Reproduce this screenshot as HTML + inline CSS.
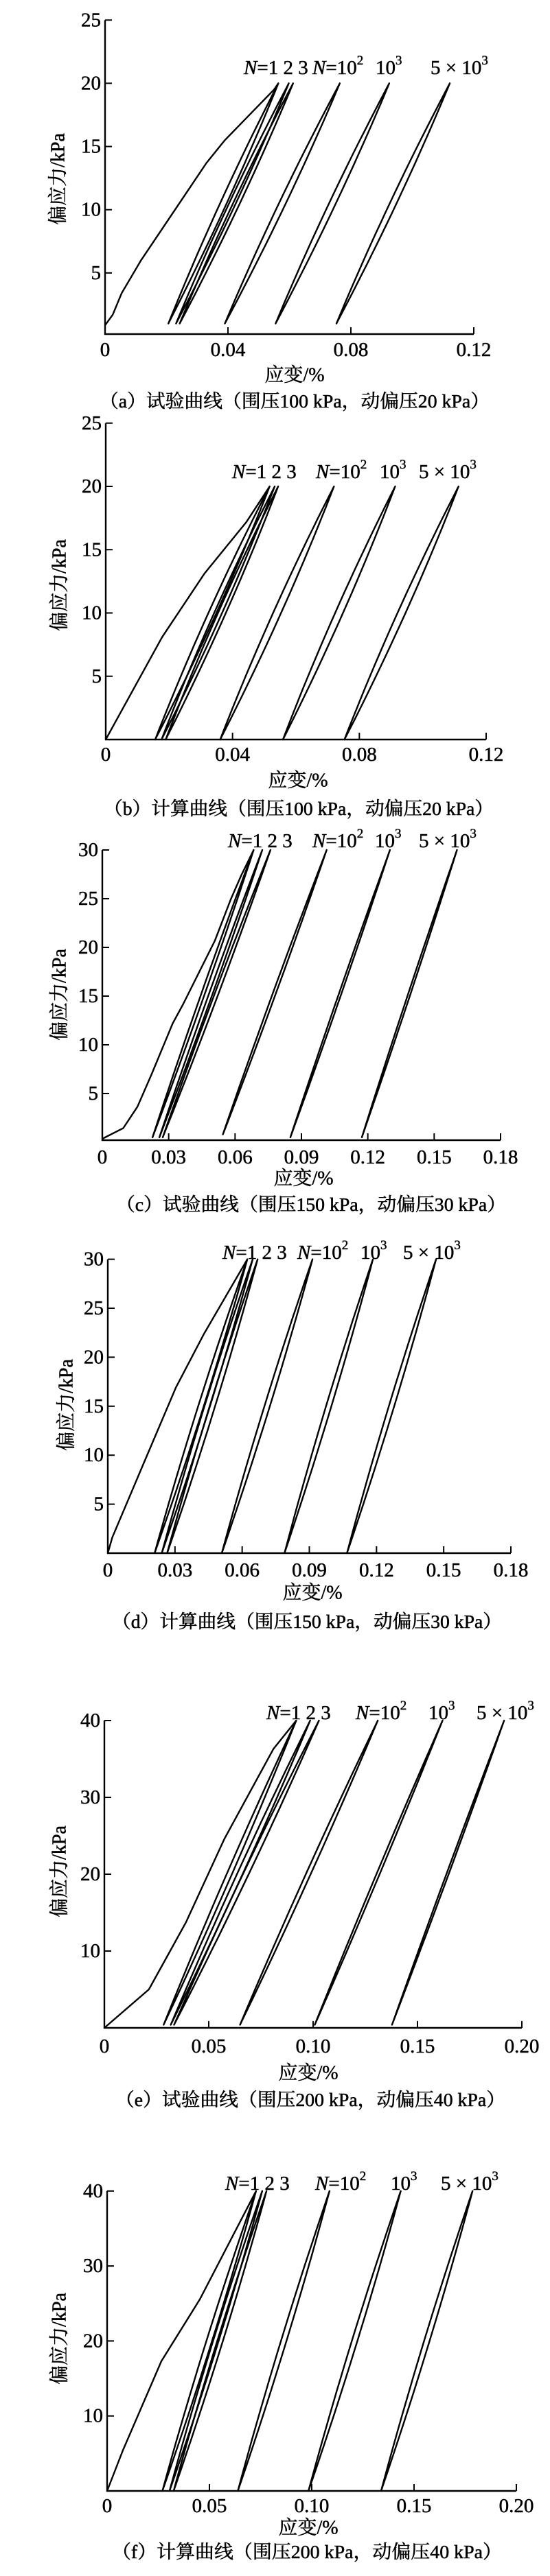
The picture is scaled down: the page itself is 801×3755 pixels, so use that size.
<!DOCTYPE html>
<html><head><meta charset="utf-8">
<style>
html,body{margin:0;padding:0;background:#fff;}
svg{display:block;}
text{font-family:"Liberation Serif","Noto Serif CJK SC",serif;fill:#000;stroke:#000;stroke-width:0.5;}
</style></head>
<body>
<svg id="s" xmlns="http://www.w3.org/2000/svg" width="801" height="3755" viewBox="0 0 801 3755"></svg>
<script>
const S=document.getElementById('s');
let out='';
function P(p){return p.map(a=>a[0].toFixed(1)+','+a[1].toFixed(1)).join(' ');}
function panel(c){
  const X=v=>c.x0+v*c.sx, Y=v=>c.y0-v*c.sy;
  const xEnd=X(c.xmax), yTop=Y(c.ymax), ay=c.axisY;
  out+=`<path d="M${c.x0},${yTop} V${ay} H${xEnd}" fill="none" stroke="#000" stroke-width="2.4"/>`;
  c.yt.forEach(v=>{out+=`<line x1="${c.x0}" x2="${c.x0+10}" y1="${Y(v)}" y2="${Y(v)}" stroke="#000" stroke-width="2"/>`;
    out+=`<text x="${c.x0-6}" y="${Y(v)}" font-size="29" text-anchor="end" dominant-baseline="central">${v}</text>`;});
  c.xt.forEach((v,i)=>{ if(v>0) out+=`<line x1="${X(v)}" x2="${X(v)}" y1="${ay}" y2="${ay-10}" stroke="#000" stroke-width="2"/>`;
    out+=`<text x="${X(v)}" y="${c.tly}" font-size="29" text-anchor="middle" dominant-baseline="central">${c.xl[i]}</text>`;});
  out+=`<polyline points="${P(c.init.map(p=>[X(p[0]),Y(p[1])]))}" fill="none" stroke="#000" stroke-width="2.4" stroke-linejoin="round"/>`;
  c.loops.forEach(L=>{
    const [xb,xt,yb,yt,w]=L; let a=[],b=[];
    for(let i=0;i<=24;i++){const s=i/24,y=yb+(yt-yb)*s,base=xb+(xt-xb)*s,d=(xt-xb)*w*s*(1-s);
      a.push([X(base-d),Y(y)]); b.push([X(base+d),Y(y)]);}
    b.reverse();
    out+=`<polygon points="${P(a.concat(b))}" fill="none" stroke="#000" stroke-width="2.4" stroke-linejoin="round"/>`;
  });
  const n=c.nl, by=c.nby;
  out+=`<text x="${n[0]}" y="${by}" font-size="29"><tspan font-style="italic">N</tspan>=1 2 3</text>`;
  out+=`<text x="${n[1]}" y="${by}" font-size="29"><tspan font-style="italic">N</tspan>=10<tspan font-size="19" dy="-14">2</tspan></text>`;
  out+=`<text x="${n[2]}" y="${by}" font-size="29">10<tspan font-size="19" dy="-14">3</tspan></text>`;
  out+=`<text x="${n[3]}" y="${by}" font-size="29">5 × 10<tspan font-size="19" dy="-14">3</tspan></text>`;
  out+=`<text transform="translate(${c.ylx},${c.yly}) rotate(-90)" font-size="28" text-anchor="middle" dominant-baseline="central">偏应力/kPa</text>`;
  out+=`<text x="${c.xlx}" y="${c.xly}" font-size="28" text-anchor="middle" dominant-baseline="central">应变/%</text>`;
  out+=`<text x="${c.cx}" y="${c.cy}" font-size="27" text-anchor="middle" dominant-baseline="central" textLength="568" lengthAdjust="spacingAndGlyphs">${c.cap}</text>`;
}
const x12=[0,0.04,0.08,0.12],l12=['0','0.04','0.08','0.12'];
const x18=[0,0.03,0.06,0.09,0.12,0.15,0.18],l18=['0','0.03','0.06','0.09','0.12','0.15','0.18'];
const x20=[0,0.05,0.10,0.15,0.20],l20=['0','0.05','0.10','0.15','0.20'];
panel({x0:153,sx:537/0.12,y0:490,sy:18.43,axisY:487,xmax:0.12,ymax:25,yt:[5,10,15,20,25],xt:x12,xl:l12,tly:510,
 init:[[0,0.86],[0.0025,1.7],[0.0054,3.4],[0.0117,6],[0.033,13.7],[0.039,15.5],[0.055,19.5],[0.0564,20]],
 loops:[[0.0206,0.0564,1,20,0.12],[0.0231,0.0598,1,20,0.12],[0.0243,0.0612,1,20,0.12],[0.039,0.0764,1,20,0.12],[0.0555,0.0925,1,20,0.12],[0.0753,0.1122,1,20,0.12]],
 nl:[355,455,547,627],nby:108,ylx:85,yly:261,xlx:429,xly:547,cx:429,cy:585,cap:'（a）试验曲线（围压100 kPa，动偏压20 kPa）'});
panel({x0:154,sx:554/0.12,y0:1078,sy:18.45,axisY:1078,xmax:0.12,ymax:25,yt:[5,10,15,20,25],xt:x12,xl:l12,tly:1100,
 init:[[0,0],[0.0033,1.5],[0.0178,8.1],[0.0311,13.1],[0.0444,17.2],[0.0517,20]],
 loops:[[0.0156,0.0517,0,20,0.14],[0.0176,0.0533,0,20,0.14],[0.0189,0.0544,0,20,0.14],[0.0361,0.072,0,20,0.14],[0.0559,0.0913,0,20,0.14],[0.0753,0.1113,0,20,0.14]],
 nl:[338,460,553,610],nby:697,ylx:87,yly:853,xlx:434,xly:1138,cx:435,cy:1179,cap:'（b）计算曲线（围压100 kPa，动偏压20 kPa）'});
panel({x0:149,sx:580/0.18,y0:1665,sy:14.2,axisY:1662,xmax:0.18,ymax:30,yt:[5,10,15,20,25,30],xt:x18,xl:l18,tly:1687,
 init:[[0,0.35],[0.0095,1.45],[0.0159,3.65],[0.0223,7],[0.0318,12.2],[0.0366,14.2],[0.0509,20.7],[0.058,24.9],[0.0628,27.4],[0.0684,30]],
 loops:[[0.0227,0.0684,0.5,30,0.07],[0.0258,0.0723,0.5,30,0.07],[0.0273,0.076,0.5,30,0.07],[0.0545,0.1014,0.8,30,0.06],[0.085,0.130,0.5,30,0.05],[0.1173,0.1603,0.5,30,0.05]],
 nl:[332,455,546,610],nby:1235,ylx:87,yly:1450,xlx:442,xly:1718,cx:453,cy:1756,cap:'（c）试验曲线（围压150 kPa，动偏压30 kPa）'});
panel({x0:157,sx:587/0.18,y0:2264,sy:14.28,axisY:2264,xmax:0.18,ymax:30,yt:[5,10,15,20,25,30],xt:x18,xl:l18,tly:2289,
 init:[[0,0],[0.002,1.6],[0.0146,8.4],[0.0304,16.9],[0.043,22.4],[0.0623,30]],
 loops:[[0.0209,0.0623,0,30,0.12],[0.0241,0.0647,0,30,0.12],[0.0265,0.0669,0,30,0.12],[0.0509,0.0914,0,30,0.12],[0.0789,0.1184,0,30,0.12],[0.1068,0.1466,0,30,0.12]],
 nl:[324,433,525,587],nby:1835,ylx:97,yly:2048,xlx:455,xly:2322,cx:447,cy:2364,cap:'（d）计算曲线（围压150 kPa，动偏压30 kPa）'});
panel({x0:152,sx:608/0.2,y0:2956,sy:11.2,axisY:2956,xmax:0.2,ymax:40,yt:[10,20,30,40],xt:x20,xl:l20,tly:2983,
 init:[[0,0],[0.0213,5],[0.039,13.7],[0.0575,24.6],[0.081,36.3],[0.0919,40]],
 loops:[[0.0284,0.0919,0.4,40,0.08],[0.0318,0.0986,0.4,40,0.08],[0.0334,0.1028,0.4,40,0.08],[0.065,0.131,0.4,40,0.07],[0.1008,0.162,0.4,40,0.05],[0.1378,0.1915,0.4,40,0.04]],
 nl:[388,518,624,694],nby:2506,ylx:87,yly:2728,xlx:449,xly:3022,cx:452,cy:3061,cap:'（e）试验曲线（围压200 kPa，动偏压40 kPa）'});
panel({x0:156,sx:596/0.2,y0:3631,sy:10.93,axisY:3631,xmax:0.2,ymax:40,yt:[10,20,30,40],xt:x20,xl:l20,tly:3653,
 init:[[0,0],[0.0077,5.4],[0.0265,17.3],[0.0454,25.6],[0.0728,40]],
 loops:[[0.027,0.0728,0,40,0.12],[0.0305,0.0758,0,40,0.12],[0.0325,0.0779,0,40,0.12],[0.0639,0.1087,0,40,0.12],[0.0984,0.1435,0,40,0.12],[0.1339,0.1786,0,40,0.12]],
 nl:[328,459,569,642],nby:3192,ylx:87,yly:3409,xlx:449,xly:3685,cx:447,cy:3720,cap:'（f）计算曲线（围压200 kPa，动偏压40 kPa）'});
S.innerHTML=out;
</script>
</body></html>
